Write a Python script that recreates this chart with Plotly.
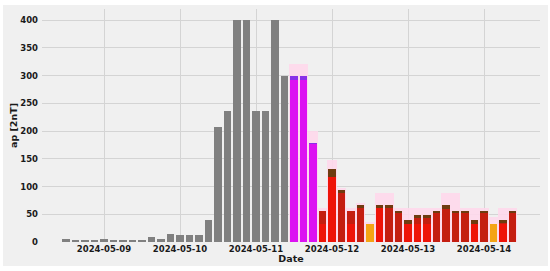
import numpy as np
import pandas as pd
import plotly.graph_objects as go

# ---- data ----
obs_start = "2024-05-08 12:00"
obs_ap = [6, 2, 3, 3, 5, 3, 4, 3, 3, 9, 6, 15,
          12, 12, 12, 39, 207, 236, 400, 400, 236, 236, 400, 300]

fc_start = "2024-05-11 12:00"
fc_top = [300, 300, 179, 56, 132, 94, 56, 67, 32, 67, 67, 56,
          39, 48, 48, 56, 67, 56, 56, 39, 56, 32, 39, 56]
fc_mid = [292, 292, 176, 56, 117, 89, 56, 62, 32, 62, 62, 52,
          33, 43, 43, 52, 60, 52, 52, 33, 52, 32, 35, 52]
fc_low = [292, 292, 176, 33, 117, 0, 33, 0, 32, 62, 0, 0,
          33, 33, 33, 0, 0, 0, 0, 33, 0, 32, 33, 0]
fc_high = [320, 320, 200, 61, 147, 98, 61, 70, 36, 89, 89, 61,
           61, 61, 61, 61, 88, 88, 61, 61, 61, 45, 61, 61]

tick_dates = ["2024-05-09", "2024-05-10", "2024-05-11",
              "2024-05-12", "2024-05-13", "2024-05-14"]

# ---- build ----
obs_x = pd.date_range(obs_start, periods=len(obs_ap), freq="3h")
fc_x = pd.date_range(fc_start, periods=len(fc_top), freq="3h")

SLOT = 3 * 3600 * 1000
BW = 0.77 * SLOT


def main_color(v):
    if v >= 150:
        return "#dc12f2"
    if v <= 32:
        return "#f4a414"
    return "#ee1408"


def cap_color(v):
    if v >= 150:
        return "#8a2fe8"
    if v <= 32:
        return "#f4a414"
    return "#6e3c10"


fig = go.Figure()

fig.add_trace(go.Bar(x=obs_x, y=obs_ap, width=[BW] * len(obs_ap),
                     marker=dict(color="#808080", line=dict(width=0)),
                     name="observed", showlegend=False))

fig.add_trace(go.Bar(x=fc_x, y=fc_high, width=[SLOT * 1.0] * len(fc_x),
                     marker=dict(color="#ffd9ec", line=dict(width=0)),
                     opacity=0.9, showlegend=False))

fig.add_trace(go.Bar(x=fc_x, y=fc_top, width=[BW] * len(fc_x),
                     marker=dict(color=[cap_color(v) for v in fc_top], line=dict(width=0)),
                     showlegend=False))

fig.add_trace(go.Bar(x=fc_x, y=fc_mid, width=[BW] * len(fc_x),
                     marker=dict(color=[("#c41e10" if 32 < v < 150 else main_color(v)) for v in fc_top],
                                 line=dict(width=0)),
                     showlegend=False))

fig.add_trace(go.Bar(x=fc_x, y=fc_low, width=[BW] * len(fc_x),
                     marker=dict(color=[main_color(v) for v in fc_top], line=dict(width=0)),
                     showlegend=False))

L, R, T, B = 42, 10, 9, 29
W, H = 550, 271
pw, ph = W - L - R, H - T - B


def px_x(p):
    return (p - L) / pw


def px_y(p):
    return (H - B - p) / ph


fig.add_shape(type="rect", xref="paper", yref="paper",
              x0=px_x(3), x1=px_x(548), y0=px_y(266), y1=px_y(5),
              fillcolor="#f0f0f0", line=dict(width=0), layer="below")

tick_font = dict(family="DejaVu Sans", size=8.5, color="#1a1a1a", weight="bold")

fig.update_layout(
    width=W, height=H,
    margin=dict(l=L, r=R, t=T, b=B, pad=0),
    paper_bgcolor="white",
    plot_bgcolor="rgba(0,0,0,0)",
    barmode="overlay",
    bargap=0,
    showlegend=False,
    font=dict(family="DejaVu Sans"),
)

fig.update_xaxes(
    type="date",
    range=["2024-05-08 04:25", "2024-05-14 17:41"],
    tickvals=tick_dates,
    ticktext=tick_dates,
    tickfont=tick_font,
    showgrid=True, gridcolor="#d4d4d4", gridwidth=1,
    zeroline=False, showline=False, ticks="",
    title=dict(text="Date", font=dict(family="DejaVu Sans", size=9.5, color="#1a1a1a", weight="bold"),
               standoff=2),
)

fig.update_yaxes(
    range=[0, 420],
    tickvals=list(range(0, 401, 50)),
    tickfont=tick_font,
    ticklabelstandoff=3,
    showgrid=True, gridcolor="#d4d4d4", gridwidth=1,
    zeroline=False, showline=False, ticks="",
    title=dict(text="ap [2nT]", font=dict(family="DejaVu Sans", size=9.5, color="#1a1a1a", weight="bold"),
               standoff=0),
)

fig.write_html("out.html",
               config={"displayModeBar": False},
               post_script="document.body.style.margin='0';document.body.style.padding='0';")
